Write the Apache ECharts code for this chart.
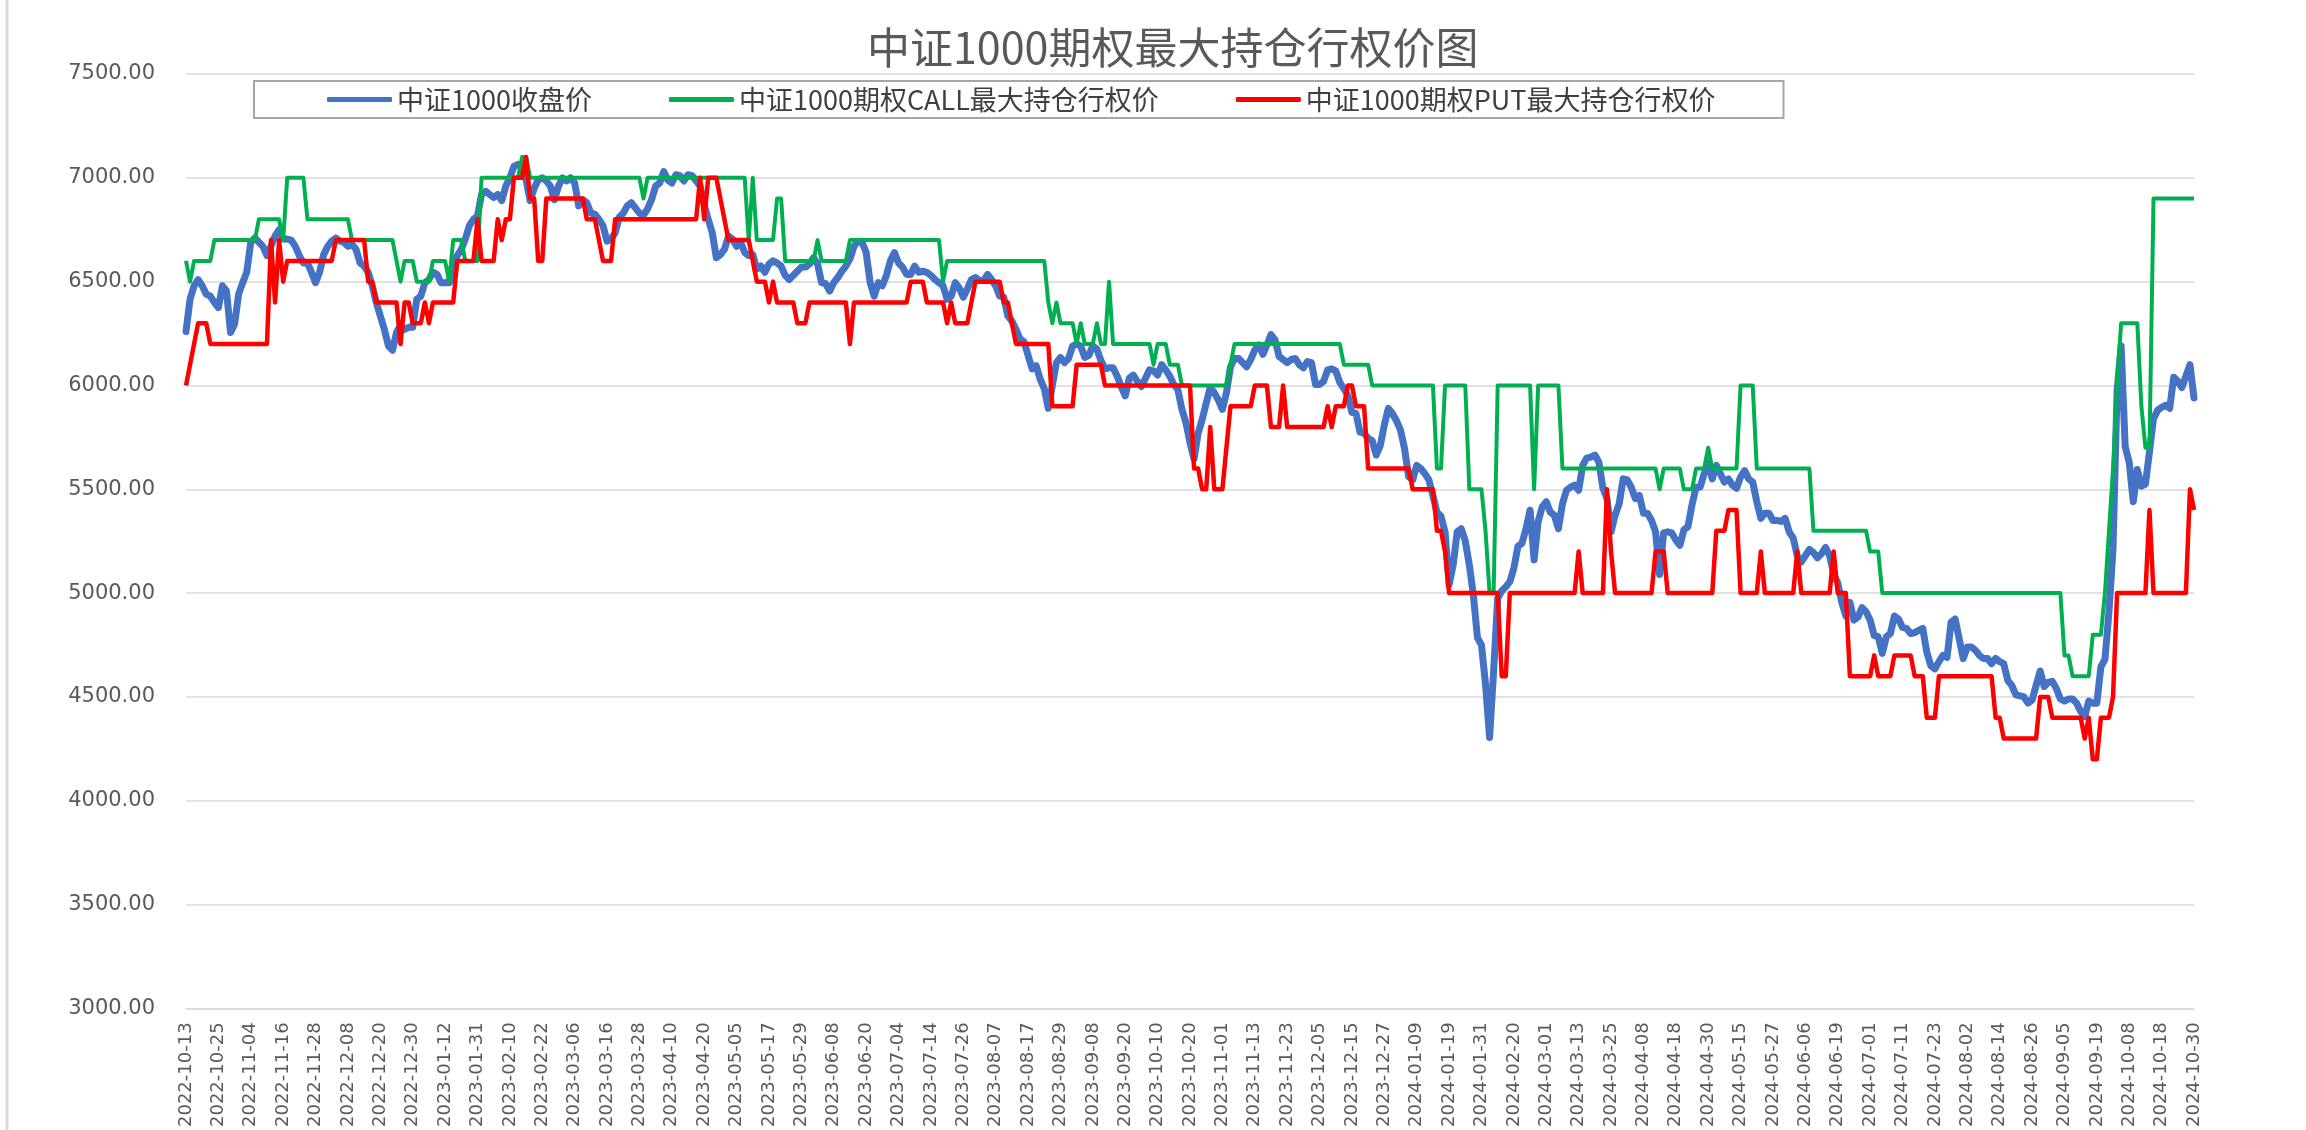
<!DOCTYPE html>
<html>
<head>
<meta charset="utf-8">
<title>中证1000期权最大持仓行权价图</title>
<script src="https://cdn.jsdelivr.net/npm/echarts/dist/echarts.min.js"></script>
<style>
  html, body { margin: 0; padding: 0; background: #fff; }
  #main { width: 2306px; height: 1130px; }
</style>
</head>
<body>
<div id="main"></div>
<script>
// 标题、图例名称
const titleText = '中证1000期权最大持仓行权价图';
const seriesNames = ['中证1000收盘价', '中证1000期权CALL最大持仓行权价', '中证1000期权PUT最大持仓行权价'];

// 交易日（周末及休市日除外）
const firstDay = '2022-10-13';
const lastDay = '2024-10-30';
const holidays = [
  '2023-01-02', '2023-01-23', '2023-01-24', '2023-01-25', '2023-01-26', '2023-01-27',
  '2023-04-05', '2023-05-01', '2023-05-02', '2023-05-03', '2023-06-22', '2023-06-23',
  '2023-09-29', '2023-10-02', '2023-10-03', '2023-10-04', '2023-10-05', '2023-10-06',
  '2024-01-01', '2024-02-09', '2024-02-12', '2024-02-13', '2024-02-14', '2024-02-15', '2024-02-16',
  '2024-04-04', '2024-04-05', '2024-05-01', '2024-05-02', '2024-05-03', '2024-06-10',
  '2024-09-16', '2024-09-17', '2024-10-01', '2024-10-02', '2024-10-03', '2024-10-04', '2024-10-07'
];

// 纵轴刻度
const yMin = 3000;
const yMax = 7500;
const yStep = 500;

// 中证1000收盘价
const closePrices = [
  6260, 6415, 6480, 6510, 6480, 6440, 6430, 6400, 6375, 6480, // 0
  6455, 6255, 6295, 6440, 6495, 6545, 6690, 6710, 6690, 6670,
  6625, 6670, 6720, 6750, 6705, 6705, 6700, 6670, 6625, 6590,
  6590, 6545, 6495, 6545, 6630, 6670, 6695, 6710, 6695, 6690,
  6670, 6680, 6655, 6590, 6575, 6545, 6480, 6400, 6335, 6270,
  6190, 6170, 6255, 6290, 6270, 6280, 6280, 6415, 6430, 6495, // 50
  6510, 6545, 6535, 6495, 6495, 6495, 6590, 6625, 6655, 6705,
  6770, 6800, 6815, 6920, 6935, 6920, 6905, 6920, 6890, 6960,
  7000, 7055, 7065, 7050, 6990, 6890, 6950, 6990, 7000, 6985,
  6960, 6895, 6960, 7000, 6985, 7000, 6975, 6865, 6895, 6880,
  6830, 6825, 6800, 6770, 6695, 6705, 6735, 6810, 6830, 6865, // 100
  6880, 6855, 6830, 6820, 6850, 6895, 6960, 6975, 7030, 6990,
  6975, 7015, 7010, 6985, 7015, 7010, 6985, 6960, 6870, 6800,
  6735, 6615, 6630, 6655, 6720, 6705, 6670, 6690, 6640, 6625,
  6630, 6560, 6575, 6545, 6585, 6600, 6590, 6575, 6530, 6510,
  6530, 6550, 6570, 6570, 6585, 6615, 6585, 6495, 6490, 6455, // 150
  6495, 6520, 6550, 6575, 6610, 6670, 6695, 6690, 6640, 6495,
  6430, 6495, 6480, 6530, 6600, 6640, 6590, 6570, 6535, 6535,
  6575, 6545, 6550, 6545, 6530, 6510, 6495, 6480, 6415, 6430,
  6495, 6470, 6425, 6465, 6510, 6520, 6505, 6505, 6535, 6510,
  6480, 6430, 6425, 6335, 6310, 6270, 6225, 6210, 6145, 6080, // 200
  6095, 6030, 5985, 5890, 6000, 6110, 6135, 6110, 6130, 6190,
  6200, 6190, 6135, 6145, 6190, 6175, 6120, 6080, 6085, 6085,
  6045, 5995, 5950, 6035, 6050, 6020, 5995, 6035, 6075, 6070,
  6050, 6100, 6075, 6045, 6005, 5980, 5885, 5820, 5725, 5645,
  5770, 5835, 5915, 5990, 5965, 5930, 5885, 5965, 6090, 6130, // 250
  6130, 6110, 6090, 6125, 6170, 6195, 6150, 6195, 6245, 6220,
  6140, 6125, 6110, 6125, 6130, 6100, 6085, 6115, 6110, 6005,
  6005, 6020, 6075, 6080, 6070, 6015, 5985, 5950, 5870, 5865,
  5775, 5770, 5745, 5735, 5665, 5710, 5810, 5890, 5865, 5830,
  5785, 5695, 5560, 5545, 5615, 5600, 5575, 5545, 5470, 5390, // 300
  5370, 5295, 5040, 5135, 5295, 5310, 5250, 5135, 4990, 4785,
  4750, 4560, 4305, 4625, 4975, 5010, 5030, 5055, 5120, 5225,
  5240, 5310, 5400, 5160, 5345, 5415, 5440, 5390, 5375, 5310,
  5430, 5495, 5510, 5520, 5495, 5615, 5650, 5655, 5665, 5630,
  5505, 5455, 5295, 5375, 5430, 5550, 5545, 5510, 5455, 5470, // 350
  5385, 5385, 5350, 5295, 5090, 5290, 5295, 5290, 5255, 5230,
  5305, 5320, 5425, 5510, 5510, 5575, 5625, 5550, 5615, 5575,
  5535, 5550, 5520, 5505, 5560, 5590, 5550, 5535, 5440, 5360,
  5385, 5385, 5350, 5350, 5345, 5360, 5295, 5265, 5180, 5150,
  5180, 5210, 5195, 5170, 5190, 5220, 5180, 5090, 5050, 4955, // 400
  4890, 4955, 4870, 4885, 4930, 4910, 4870, 4795, 4790, 4710,
  4790, 4805, 4890, 4875, 4835, 4830, 4805, 4810, 4820, 4830,
  4715, 4650, 4635, 4670, 4700, 4690, 4860, 4875, 4780, 4685,
  4740, 4740, 4725, 4700, 4685, 4685, 4660, 4685, 4670, 4660,
  4580, 4555, 4510, 4505, 4500, 4470, 4485, 4555, 4625, 4550, // 450
  4570, 4575, 4540, 4490, 4480, 4490, 4490, 4470, 4430, 4405,
  4480, 4470, 4470, 4645, 4680, 4910, 5215, 5975, 6190, 5705,
  5630, 5440, 5595, 5515, 5525, 5680, 5840, 5880, 5895, 5905,
  5890, 6040, 6020, 5990, 6045, 6100, 5940
];

// CALL最大持仓行权价
const callStrike = [
  6600, 6500, 6600, 6600, 6600, 6600, 6600, 6700, 6700, 6700, // 0
  6700, 6700, 6700, 6700, 6700, 6700, 6700, 6700, 6800, 6800,
  6800, 6800, 6800, 6800, 6700, 7000, 7000, 7000, 7000, 7000,
  6800, 6800, 6800, 6800, 6800, 6800, 6800, 6800, 6800, 6800,
  6800, 6700, 6700, 6700, 6700, 6700, 6700, 6700, 6700, 6700,
  6700, 6700, 6600, 6500, 6600, 6600, 6600, 6500, 6500, 6500, // 50
  6500, 6600, 6600, 6600, 6600, 6500, 6700, 6700, 6700, 6600,
  6600, 6600, 6600, 7000, 7000, 7000, 7000, 7000, 7000, 7000,
  7000, 7000, 7000, 7100, 7100, 7000, 7000, 7000, 7000, 7000,
  7000, 7000, 7000, 7000, 7000, 7000, 7000, 7000, 7000, 7000,
  7000, 7000, 7000, 7000, 7000, 7000, 7000, 7000, 7000, 7000, // 100
  7000, 7000, 7000, 6900, 7000, 7000, 7000, 7000, 7000, 7000,
  7000, 7000, 7000, 7000, 7000, 7000, 7000, 7000, 7000, 7000,
  7000, 7000, 7000, 7000, 7000, 7000, 7000, 7000, 7000, 6700,
  7000, 6700, 6700, 6700, 6700, 6700, 6900, 6900, 6600, 6600,
  6600, 6600, 6600, 6600, 6600, 6600, 6700, 6600, 6600, 6600, // 150
  6600, 6600, 6600, 6600, 6700, 6700, 6700, 6700, 6700, 6700,
  6700, 6700, 6700, 6700, 6700, 6700, 6700, 6700, 6700, 6700,
  6700, 6700, 6700, 6700, 6700, 6700, 6700, 6500, 6600, 6600,
  6600, 6600, 6600, 6600, 6600, 6600, 6600, 6600, 6600, 6600,
  6600, 6600, 6600, 6600, 6600, 6600, 6600, 6600, 6600, 6600, // 200
  6600, 6600, 6600, 6400, 6300, 6400, 6300, 6300, 6300, 6300,
  6200, 6300, 6200, 6200, 6200, 6300, 6200, 6200, 6500, 6200,
  6200, 6200, 6200, 6200, 6200, 6200, 6200, 6200, 6200, 6100,
  6200, 6200, 6200, 6100, 6100, 6100, 6000, 6000, 6000, 6000,
  6000, 6000, 6000, 6000, 6000, 6000, 6000, 6000, 6100, 6200, // 250
  6200, 6200, 6200, 6200, 6200, 6200, 6200, 6200, 6200, 6200,
  6200, 6200, 6200, 6200, 6200, 6200, 6200, 6200, 6200, 6200,
  6200, 6200, 6200, 6200, 6200, 6200, 6100, 6100, 6100, 6100,
  6100, 6100, 6100, 6000, 6000, 6000, 6000, 6000, 6000, 6000,
  6000, 6000, 6000, 6000, 6000, 6000, 6000, 6000, 6000, 5600, // 300
  5600, 6000, 6000, 6000, 6000, 6000, 6000, 5500, 5500, 5500,
  5500, 5300, 5000, 5000, 6000, 6000, 6000, 6000, 6000, 6000,
  6000, 6000, 6000, 5500, 6000, 6000, 6000, 6000, 6000, 6000,
  5600, 5600, 5600, 5600, 5600, 5600, 5600, 5600, 5600, 5600,
  5600, 5600, 5600, 5600, 5600, 5600, 5600, 5600, 5600, 5600, // 350
  5600, 5600, 5600, 5600, 5500, 5600, 5600, 5600, 5600, 5600,
  5500, 5500, 5500, 5600, 5600, 5600, 5700, 5600, 5600, 5600,
  5600, 5600, 5600, 5600, 6000, 6000, 6000, 6000, 5600, 5600,
  5600, 5600, 5600, 5600, 5600, 5600, 5600, 5600, 5600, 5600,
  5600, 5600, 5300, 5300, 5300, 5300, 5300, 5300, 5300, 5300, // 400
  5300, 5300, 5300, 5300, 5300, 5300, 5200, 5200, 5200, 5000,
  5000, 5000, 5000, 5000, 5000, 5000, 5000, 5000, 5000, 5000,
  5000, 5000, 5000, 5000, 5000, 5000, 5000, 5000, 5000, 5000,
  5000, 5000, 5000, 5000, 5000, 5000, 5000, 5000, 5000, 5000,
  5000, 5000, 5000, 5000, 5000, 5000, 5000, 5000, 5000, 5000, // 450
  5000, 5000, 5000, 5000, 4700, 4700, 4600, 4600, 4600, 4600,
  4600, 4800, 4800, 4800, 5000, 5300, 5600, 6000, 6300, 6300,
  6300, 6300, 6300, 5900, 5700, 5700, 6900, 6900, 6900, 6900,
  6900, 6900, 6900, 6900, 6900, 6900, 6900
];

// PUT最大持仓行权价
const putStrike = [
  6000, 6100, 6200, 6300, 6300, 6300, 6200, 6200, 6200, 6200, // 0
  6200, 6200, 6200, 6200, 6200, 6200, 6200, 6200, 6200, 6200,
  6200, 6700, 6400, 6700, 6500, 6600, 6600, 6600, 6600, 6600,
  6600, 6600, 6600, 6600, 6600, 6600, 6600, 6700, 6700, 6700,
  6700, 6700, 6700, 6700, 6700, 6500, 6500, 6400, 6400, 6400,
  6400, 6400, 6400, 6200, 6400, 6400, 6300, 6300, 6300, 6400, // 50
  6300, 6400, 6400, 6400, 6400, 6400, 6400, 6600, 6600, 6600,
  6600, 6600, 6800, 6600, 6600, 6600, 6600, 6800, 6700, 6800,
  6800, 7000, 7000, 7000, 7100, 6900, 6900, 6600, 6600, 6900,
  6900, 6900, 6900, 6900, 6900, 6900, 6900, 6900, 6900, 6800,
  6800, 6800, 6700, 6600, 6600, 6600, 6800, 6800, 6800, 6800, // 100
  6800, 6800, 6800, 6800, 6800, 6800, 6800, 6800, 6800, 6800,
  6800, 6800, 6800, 6800, 6800, 6800, 6800, 7000, 6800, 7000,
  7000, 7000, 6900, 6800, 6700, 6700, 6700, 6700, 6700, 6700,
  6600, 6500, 6500, 6500, 6400, 6500, 6400, 6400, 6400, 6400,
  6400, 6300, 6300, 6300, 6400, 6400, 6400, 6400, 6400, 6400, // 150
  6400, 6400, 6400, 6400, 6200, 6400, 6400, 6400, 6400, 6400,
  6400, 6400, 6400, 6400, 6400, 6400, 6400, 6400, 6400, 6500,
  6500, 6500, 6500, 6400, 6400, 6400, 6400, 6400, 6300, 6400,
  6300, 6300, 6300, 6300, 6400, 6500, 6500, 6500, 6500, 6500,
  6500, 6500, 6400, 6400, 6300, 6200, 6200, 6200, 6200, 6200, // 200
  6200, 6200, 6200, 6200, 5900, 5900, 5900, 5900, 5900, 5900,
  6100, 6100, 6100, 6100, 6100, 6100, 6100, 6000, 6000, 6000,
  6000, 6000, 6000, 6000, 6000, 6000, 6000, 6000, 6000, 6000,
  6000, 6000, 6000, 6000, 6000, 6000, 6000, 6000, 6000, 5600,
  5600, 5500, 5500, 5800, 5500, 5500, 5500, 5700, 5900, 5900, // 250
  5900, 5900, 5900, 5900, 6000, 6000, 6000, 6000, 5800, 5800,
  5800, 6000, 5800, 5800, 5800, 5800, 5800, 5800, 5800, 5800,
  5800, 5800, 5900, 5800, 5900, 5900, 5900, 6000, 6000, 5900,
  5900, 5900, 5600, 5600, 5600, 5600, 5600, 5600, 5600, 5600,
  5600, 5600, 5600, 5500, 5500, 5500, 5500, 5500, 5500, 5300, // 300
  5300, 5200, 5000, 5000, 5000, 5000, 5000, 5000, 5000, 5000,
  5000, 5000, 5000, 5000, 5000, 4600, 4600, 5000, 5000, 5000,
  5000, 5000, 5000, 5000, 5000, 5000, 5000, 5000, 5000, 5000,
  5000, 5000, 5000, 5000, 5200, 5000, 5000, 5000, 5000, 5000,
  5000, 5500, 5200, 5000, 5000, 5000, 5000, 5000, 5000, 5000, // 350
  5000, 5000, 5000, 5200, 5200, 5200, 5000, 5000, 5000, 5000,
  5000, 5000, 5000, 5000, 5000, 5000, 5000, 5000, 5300, 5300,
  5300, 5400, 5400, 5400, 5000, 5000, 5000, 5000, 5000, 5200,
  5000, 5000, 5000, 5000, 5000, 5000, 5000, 5000, 5200, 5000,
  5000, 5000, 5000, 5000, 5000, 5000, 5000, 5200, 5000, 5000, // 400
  5000, 4600, 4600, 4600, 4600, 4600, 4600, 4700, 4600, 4600,
  4600, 4600, 4700, 4700, 4700, 4700, 4700, 4600, 4600, 4600,
  4400, 4400, 4400, 4600, 4600, 4600, 4600, 4600, 4600, 4600,
  4600, 4600, 4600, 4600, 4600, 4600, 4600, 4400, 4400, 4300,
  4300, 4300, 4300, 4300, 4300, 4300, 4300, 4300, 4500, 4500, // 450
  4500, 4400, 4400, 4400, 4400, 4400, 4400, 4400, 4400, 4300,
  4400, 4200, 4200, 4400, 4400, 4400, 4500, 5000, 5000, 5000,
  5000, 5000, 5000, 5000, 5000, 5400, 5000, 5000, 5000, 5000,
  5000, 5000, 5000, 5000, 5000, 5500, 5400
];

// 生成交易日列表
function tradingDays(from, to, skip) {
  var out = [];
  var d = new Date(from + 'T00:00:00Z');
  var end = new Date(to + 'T00:00:00Z');
  while (d <= end) {
    var wd = d.getUTCDay();
    var s = d.toISOString().slice(0, 10);
    if (wd !== 0 && wd !== 6 && skip.indexOf(s) < 0) {
      out.push(s);
    }
    d.setUTCDate(d.getUTCDate() + 1);
  }
  return out;
}

const dates = tradingDays(firstDay, lastDay, holidays);
if (dates.length !== closePrices.length || dates.length !== callStrike.length || dates.length !== putStrike.length) {
  console.error('length mismatch', dates.length, closePrices.length, callStrike.length, putStrike.length);
}

const chart = echarts.init(document.getElementById('main'));

const labelFont = 'DejaVu Sans, Verdana, sans-serif';
const cjkFont = 'Noto Sans CJK SC, sans-serif';

chart.setOption({
  backgroundColor: '#ffffff',
  animation: false,
  title: {
    text: titleText,
    left: 862,
    top: 21,
    textStyle: {
      fontFamily: cjkFont,
      fontSize: 43,
      fontWeight: 'normal',
      color: '#595959'
    }
  },
  //图例
  legend: {
    left: 254,
    top: 81,
    padding: [5, 68, 5, 73],
    borderColor: '#a6a6a6',
    borderWidth: 2,
    icon: 'roundRect',
    itemWidth: 65,
    itemHeight: 5,
    itemGap: 77,
    textStyle: {
      fontFamily: cjkFont,
      fontSize: 27,
      color: '#404040'
    },
    data: seriesNames
  },
  grid: {
    left: 186,
    right: 112,
    top: 74,
    bottom: 119
  },
  xAxis: {
    type: 'category',
    data: dates,
    boundaryGap: false,
    axisLine: {
      lineStyle: { color: '#d9d9d9', width: 1.5 }
    },
    axisTick: { show: false },
    splitLine: { show: false },
    axisLabel: {
      interval: 7,
      rotate: 90,
      margin: 14,
      fontFamily: labelFont,
      fontSize: 18,
      color: '#595959'
    }
  },
  yAxis: {
    type: 'value',
    min: yMin,
    max: yMax,
    interval: yStep,
    axisLine: { show: false },
    axisTick: { show: false },
    axisLabel: {
      margin: 31,
      fontFamily: labelFont,
      fontSize: 21,
      color: '#595959',
      formatter: function (v) {
        return v.toFixed(2);
      }
    },
    splitLine: {
      lineStyle: { color: '#d9d9d9', width: 1.5 }
    }
  },
  graphic: [{
    type: 'line',
    shape: { x1: 7, y1: 0, x2: 7, y2: 1130 },
    style: { stroke: '#d9d9d9', lineWidth: 3 },
    silent: true
  }],
  series: [{
      name: seriesNames[0],
      type: 'line',
      data: closePrices,
      symbol: 'none',
      itemStyle: { color: '#4472C4' },
      lineStyle: { color: '#4472C4', width: 7, join: 'round', cap: 'round' }
    },
    {
      name: seriesNames[1],
      type: 'line',
      data: callStrike,
      symbol: 'none',
      itemStyle: { color: '#00B050' },
      lineStyle: { color: '#00B050', width: 4, join: 'round' }
    },
    {
      name: seriesNames[2],
      type: 'line',
      data: putStrike,
      symbol: 'none',
      itemStyle: { color: '#FF0000' },
      lineStyle: { color: '#FF0000', width: 4.5, join: 'round' }
    }
  ]
});
</script>
</body>
</html>
